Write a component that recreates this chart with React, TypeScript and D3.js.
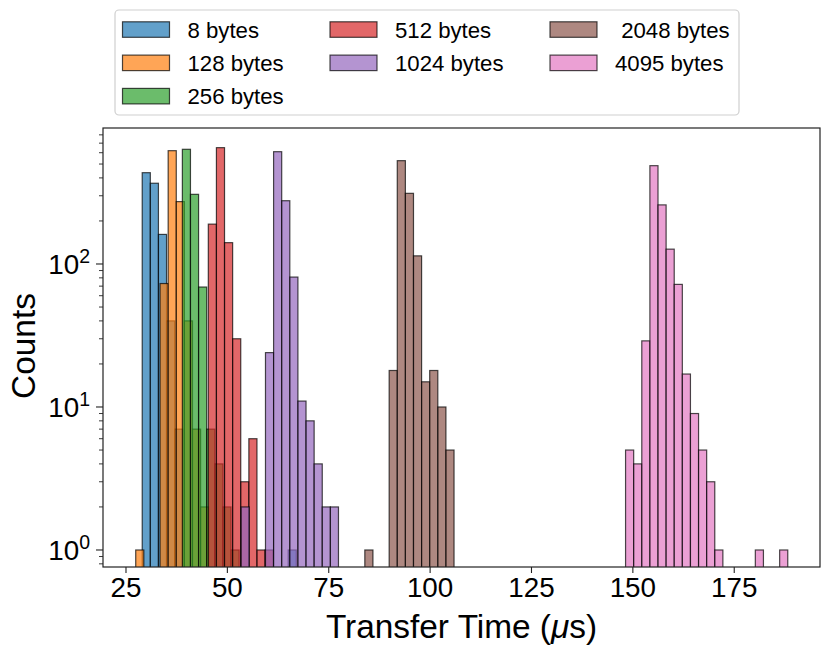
import React from "react";
import * as d3 from "d3";

// histogram data: 2 µs bins, counts per bin, first bin edge per payload size
const sizeLabels = ["8 bytes", "128 bytes", "256 bytes", "512 bytes", "1024 bytes", " 2048 bytes", "4095 bytes"];
const binWidth = 2;
const firstEdges = [29.0, 27.4, 38.9, 45.3, 53.4, 83.9, 148.2];

const counts8 = [435, 367, 161, 40, 7, 0, 0, 0, 0, 0, 0, 0, 0, 0, 0, 0, 0, 0, 1];
const counts128 = [1, 0, 0, 73, 620, 273, 40, 7, 2];
const counts256 = [634, 307, 69, 7, 4, 2, 1];
const counts512 = [190, 651, 141, 30, 3, 6, 1, 1];
const counts1024 = [2, 0, 0, 24, 610, 277, 81, 11, 8, 4, 2, 2];
const counts2048 = [1, 0, 0, 18, 528, 312, 114, 15, 18, 10, 5];
const counts4095 = [5, 4, 29, 487, 259, 127, 72, 17, 9, 5, 3, 1, 0, 0, 0, 0, 1, 0, 0, 1];

const allCounts = [counts8, counts128, counts256, counts512, counts1024, counts2048, counts4095];
const colors = ["#1f77b4", "#ff7f0e", "#2ca02c", "#d62728", "#9467bd", "#8c564b", "#e377c2"];

const xTicks = [25, 50, 75, 100, 125, 150, 175];
const yMajor = [0, 1, 2];

const W = 831;
const H = 656;
const font = "'Liberation Sans', Arial, Helvetica, sans-serif";

export default function App() {
    const left = 103, right = 820, top = 128, bottom = 567;

    const x = d3.scaleLinear().domain([19.33, 196.15]).range([left, right]);
    const y = d3.scaleLog().domain([Math.pow(10, -0.119), Math.pow(10, 2.951)]).range([bottom, top]);

    // minor log ticks inside the visible range
    const minor: number[] = [];
    for (let e = -1; e <= 2; e++) {
        for (let m = 2; m <= 9; m++) {
            const v = m * Math.pow(10, e);
            if (v >= y.domain()[0] && v <= y.domain()[1]) minor.push(v);
        }
    }

    const bars = allCounts.map((counts, si) =>
        counts.map((c, i) => {
            if (c <= 0) return null;
            const x0 = x(firstEdges[si] + i * binWidth);
            const x1 = x(firstEdges[si] + (i + 1) * binWidth);
            const yt = y(c);
            return (
                <rect
                    key={`${si}-${i}`}
                    x={x0}
                    y={yt}
                    width={x1 - x0}
                    height={bottom + 5 - yt}
                    fill={colors[si]}
                    fillOpacity={0.7}
                    stroke="#000"
                    strokeOpacity={0.7}
                    strokeWidth={1.2}
                />
            );
        })
    );

    // legend layout
    const legFont = 22.2;
    const colX = [122.5, 330, 550];
    const rowY = [29.8, 63.1, 96.4];

    return (
        <svg width={W} height={H} style={{ position: "absolute", left: 0, top: 0, background: "#fff" }} fontFamily={font}>
            <defs>
                <clipPath id="plotClip">
                    <rect x={left} y={top} width={right - left} height={bottom - top} />
                </clipPath>
            </defs>

            <g clipPath="url(#plotClip)">{bars}</g>

            {/* frame */}
            <rect x={left} y={top} width={right - left} height={bottom - top} fill="none" stroke="#222" strokeWidth={1.2} />

            {/* x ticks */}
            {xTicks.map((t) => (
                <g key={t}>
                    <line x1={x(t)} x2={x(t)} y1={bottom} y2={bottom + 6} stroke="#222" strokeWidth={1.1} />
                    <text x={x(t)} y={597} textAnchor="middle" fontSize={27.8} fill="#000">
                        {t}
                    </text>
                </g>
            ))}

            {/* y ticks */}
            {yMajor.map((e) => (
                <g key={e}>
                    <line x1={left - 7} x2={left} y1={y(Math.pow(10, e))} y2={y(Math.pow(10, e))} stroke="#222" strokeWidth={1.1} />
                    <text x={90} y={y(Math.pow(10, e)) + 10.5} textAnchor="end" fontSize={27.8} fill="#000">
                        10
                        <tspan fontSize={19.5} dy={-11}>
                            {e}
                        </tspan>
                    </text>
                </g>
            ))}
            {minor.map((v) => (
                <line key={v} x1={left - 4} x2={left} y1={y(v)} y2={y(v)} stroke="#222" strokeWidth={0.9} />
            ))}

            {/* axis labels */}
            <text x={461.5} y={638} textAnchor="middle" fontSize={33.4} fill="#000">
                Transfer Time (<tspan fontStyle="italic">μ</tspan>s)
            </text>
            <text transform="translate(35,346) rotate(-90)" textAnchor="middle" fontSize={33.4} fill="#000">
                Counts
            </text>

            {/* legend */}
            <rect x={115} y={10} width={624} height={105} rx={4} fill="#fff" fillOpacity={0.8} stroke="#cfcfcf" strokeWidth={1.2} />
            {sizeLabels.map((lab, i) => {
                const col = Math.floor(i / 3) === 0 ? 0 : i < 5 ? 1 : 2;
                const row = i < 3 ? i : i < 5 ? i - 3 : i - 5;
                const px = colX[col];
                const cy = rowY[row];
                return (
                    <g key={lab}>
                        <rect x={px} y={cy - 8} width={47} height={15.5} fill={colors[i]} fillOpacity={0.7} stroke="#000" strokeOpacity={0.7} strokeWidth={1.2} />
                        <text x={px + 65} y={cy + 7.8} fontSize={legFont} fill="#000" style={{ whiteSpace: "pre" }}>
                            {lab}
                        </text>
                    </g>
                );
            })}
        </svg>
    );
}
